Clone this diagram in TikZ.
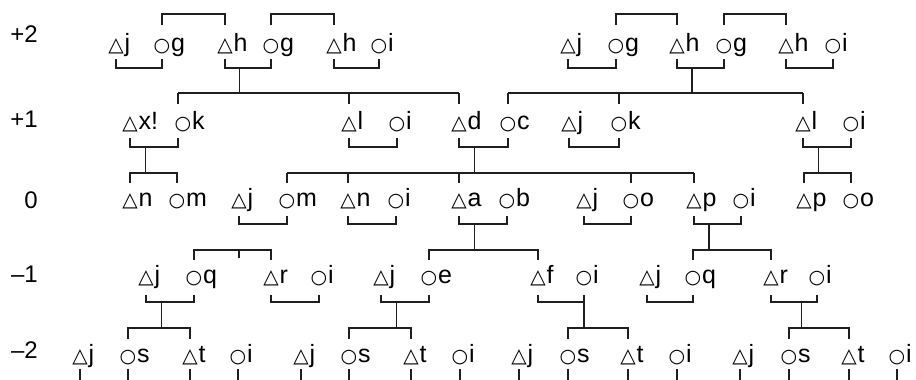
\documentclass[tikz,border=0pt]{standalone}
\usepackage{fontspec}
\setmainfont{Liberation Sans}
\newfontfamily\symf{DejaVu Sans}
\usetikzlibrary{calc}
\tikzset{
  trisym/.style={inner sep=0pt, anchor=base, font=\symf\fontsize{20}{20}\selectfont},
  cirsym/.style={inner sep=0pt, anchor=base, font=\symf\fontsize{19}{19}\selectfont},
  lett/.style={inner sep=0pt, anchor=base west, xshift=0.5pt, font=\fontsize{25}{25}\selectfont},
  rowlab/.style={inner sep=0pt, anchor=base east, font=\fontsize{24}{24}\selectfont},
  ln/.style={line width=1.4pt, color=black!88},
}
\newcommand\tperson[4]{\node[trisym] (#1) at (#2,#3) {△}; \node[lett] (#1l) at (#1.base east) {#4};}
\newcommand\cperson[4]{\node[cirsym] (#1) at (#2,#3) {○}; \node[lett] (#1l) at (#1.base east) {#4};}
\newcommand\marr[3]{\draw[ln] (#1|-#3t) -- (#1|-#3h) -- (#2|-#3h) -- (#2|-#3t);}
\newcommand\sibtwo[3]{\draw[ln] (#1|-#3b) -- (#1|-#3h) -- (#2|-#3h) -- (#2|-#3b);}
\begin{document}
\begin{tikzpicture}[x=1pt,y=-1pt]
\useasboundingbox (0,0) rectangle (916,380);
% levels
\coordinate (S2h) at (0,14);  \coordinate (S2b) at (0,25);
\coordinate (M2t) at (0,59);  \coordinate (M2h) at (0,68);
\coordinate (S1h) at (0,93);  \coordinate (S1b) at (0,104);
\coordinate (M1t) at (0,138); \coordinate (M1h) at (0,147);
\coordinate (S0h) at (0,173); \coordinate (S0b) at (0,183);
\coordinate (M0t) at (0,216); \coordinate (M0h) at (0,224);
\coordinate (Smh) at (0,250); \coordinate (Smb) at (0,260);
\coordinate (Mmt) at (0,295); \coordinate (Mmh) at (0,302);
\coordinate (Snh) at (0,328); \coordinate (Snb) at (0,339);
\coordinate (Tkt) at (0,369); \coordinate (Tkb) at (0,381);
% row labels
\node[rowlab] (L2)  at (38,42)  {+2};
\node[rowlab] (L1)  at (38,127) {+1};
\node[rowlab] (L0)  at (38,208) {0};
\node[rowlab] (Lm1) at (38,282) {–1};
\node[rowlab] (Lm2) at (38,358) {–2};
% row +2
\tperson{a1}{116}{51}{j} \cperson{a2}{162}{51}{g} \tperson{a3}{225}{51}{h}
\cperson{a4}{271}{51}{g} \tperson{a5}{334}{51}{h} \cperson{a6}{379}{51}{i}
\tperson{b1}{568}{51}{j} \cperson{b2}{616}{51}{g} \tperson{b3}{677}{51}{h}
\cperson{b4}{724}{51}{g} \tperson{b5}{786}{51}{h} \cperson{b6}{833}{51}{i}
% row +1
\tperson{p1}{130}{129}{x!} \coordinate (p2) at (178,129);
\node[cirsym] (p2s) at (183,129) {○}; \node[lett] (p2l) at (p2s.base east) {k};
\tperson{p3}{349}{129}{l} \cperson{p4}{397}{129}{i}
\tperson{p5}{459}{129}{d} \cperson{p6}{508}{129}{c}
\tperson{p7}{569}{129}{j} \cperson{p8}{619}{129}{k}
\tperson{p9}{803}{129}{l} \cperson{p10}{851}{129}{i}
% row 0
\tperson{c1}{130}{206}{n} \cperson{c2}{177}{206}{m}
\tperson{c3}{239}{206}{j} \cperson{c4}{287}{206}{m}
\tperson{c5}{348}{206}{n} \cperson{c6}{396}{206}{i}
\tperson{c7}{459}{206}{a} \cperson{c8}{507}{206}{b}
\tperson{c9}{584}{206}{j} \cperson{c10}{631}{206}{o}
\tperson{c11}{694}{206}{p} \cperson{c12}{741}{206}{i}
\tperson{c13}{804}{206}{p} \cperson{c14}{851}{206}{o}
% row -1
\tperson{m1}{146}{283}{j} \cperson{m2}{194}{283}{q}
\tperson{m3}{271}{283}{r} \cperson{m4}{319}{283}{i}
\tperson{m5}{381}{283}{j} \cperson{m6}{429}{283}{e}
\tperson{m7}{538}{283}{f} \cperson{m8}{584}{283}{i}
\tperson{m9}{647}{283}{j} \cperson{m10}{693}{283}{q}
\tperson{m11}{771}{283}{r} \cperson{m12}{817}{283}{i}
% row -2
\tperson{n1}{80}{362}{j}   \cperson{n2}{128}{362}{s}  \tperson{n3}{190}{362}{t}  \cperson{n4}{238}{362}{i}
\tperson{n5}{301}{362}{j}  \cperson{n6}{349}{362}{s}  \tperson{n7}{411}{362}{t}  \cperson{n8}{460}{362}{i}
\tperson{n9}{519}{362}{j}  \cperson{n10}{568}{362}{s} \tperson{n11}{628}{362}{t} \cperson{n12}{677}{362}{i}
\tperson{n13}{740}{362}{j} \cperson{n14}{789}{362}{s} \tperson{n15}{849}{362}{t} \cperson{n16}{897}{362}{i}
% sibling brackets over +2
\sibtwo{a2}{a3}{S2} \sibtwo{a4}{a5}{S2} \sibtwo{b2}{b3}{S2} \sibtwo{b4}{b5}{S2}
% marriages +2
\marr{a1}{a2}{M2} \marr{a3}{a4}{M2} \marr{a5}{a6}{M2}
\marr{b1}{b2}{M2} \marr{b3}{b4}{M2} \marr{b5}{b6}{M2}
% descent +2 -> +1
\coordinate (da) at ($(a3|-M2h)!0.32!(a4|-M2h)$);
\coordinate (db) at ($(b3|-M2h)!0.32!(b4|-M2h)$);
\draw[ln] (da) -- (da|-S1h); \draw[ln] (db) -- (db|-S1h);
\draw[ln] (p2|-S1h) -- (p5|-S1h);
\foreach \n in {p2,p3,p5} \draw[ln] (\n|-S1h) -- (\n|-S1b);
\draw[ln] (p6|-S1h) -- (p9|-S1h);
\foreach \n in {p6,p8,p9} \draw[ln] (\n|-S1h) -- (\n|-S1b);
% marriages +1
\marr{p1}{p2}{M1} \marr{p3}{p4}{M1} \marr{p5}{p6}{M1} \marr{p7}{p8}{M1} \marr{p9}{p10}{M1}
% descent +1 -> 0
\coordinate (dp1) at ($(p1|-M1h)!0.32!(p2|-M1h)$);
\coordinate (dp5) at ($(p5|-M1h)!0.32!(p6|-M1h)$);
\coordinate (dp9) at ($(p9|-M1h)!0.32!(p10|-M1h)$);
\draw[ln] (dp1) -- (dp1|-S0h); \draw[ln] (dp5) -- (dp5|-S0h); \draw[ln] (dp9) -- (dp9|-S0h);
\sibtwo{c1}{c2}{S0}
\draw[ln] (c4|-S0h) -- (c11|-S0h);
\foreach \n in {c4,c5,c7,c10,c11} \draw[ln] (\n|-S0h) -- (\n|-S0b);
\sibtwo{c13}{c14}{S0}
% marriages 0
\marr{c3}{c4}{M0} \marr{c5}{c6}{M0} \marr{c7}{c8}{M0} \marr{c9}{c10}{M0} \marr{c11}{c12}{M0}
% descent 0 -> -1
\coordinate (dc3) at (c3|-Smh);
\draw[ln] ([yshift=-8pt]dc3) -- (dc3);
\coordinate (dc7) at ($(c7|-M0h)!0.32!(c8|-M0h)$);
\coordinate (dc11) at ($(c11|-M0h)!0.32!(c12|-M0h)$);
\draw[ln] (dc7) -- (dc7|-Smh); \draw[ln] (dc11) -- (dc11|-Smh);
\sibtwo{m2}{m3}{Sm} \sibtwo{m6}{m7}{Sm} \sibtwo{m10}{m11}{Sm}
% marriages -1
\marr{m1}{m2}{Mm} \marr{m3}{m4}{Mm} \marr{m5}{m6}{Mm} \marr{m7}{m8}{Mm} \marr{m9}{m10}{Mm} \marr{m11}{m12}{Mm}
% descent -1 -> -2
\coordinate (dm1) at ($(m1|-Mmh)!0.32!(m2|-Mmh)$);
\coordinate (dm5) at ($(m5|-Mmh)!0.32!(m6|-Mmh)$);
\coordinate (dm8) at (m8|-Mmh);
\coordinate (dm11) at ($(m11|-Mmh)!0.66!(m12|-Mmh)$);
\foreach \d in {dm1,dm5,dm8,dm11} \draw[ln] (\d) -- (\d|-Snh);
\sibtwo{n2}{n3}{Sn} \sibtwo{n6}{n7}{Sn} \sibtwo{n10}{n11}{Sn} \sibtwo{n14}{n15}{Sn}
% ticks below -2
\foreach \n in {n1,n2,n3,n4,n5,n6,n7,n8,n9,n10,n11,n12,n13,n14,n15,n16}
  \draw[ln] (\n|-Tkt) -- (\n|-Tkb);
\end{tikzpicture}
\end{document}
